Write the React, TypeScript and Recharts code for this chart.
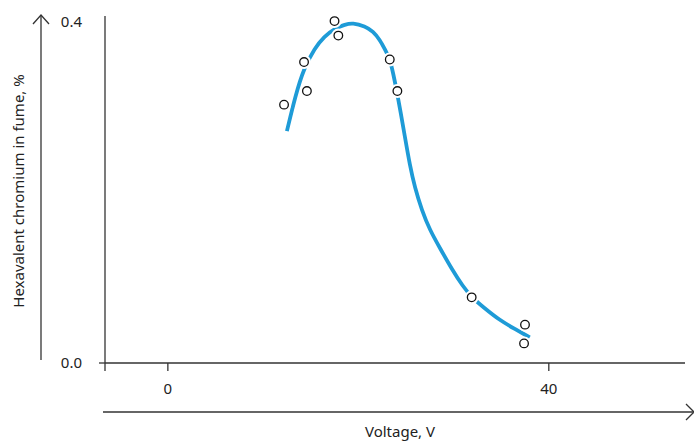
import { ComposedChart, Line, Scatter, XAxis, YAxis } from 'recharts';

// fitted curve
const curveVoltage = [12.5, 13.4, 14.3, 15.4, 16.4, 17.6, 18.6, 19.4, 20.7, 21.55, 22.26, 22.78, 23.31, 23.67, 24.04, 24.46, 24.88, 25.41, 25.93, 26.67, 27.51, 28.56, 29.82, 30.97, 31.92, 33.07, 34.86, 36.43, 38.0];
const curveChromium = [0.272, 0.314, 0.346, 0.369, 0.383, 0.393, 0.397, 0.399, 0.395, 0.389, 0.379, 0.368, 0.357, 0.339, 0.319, 0.293, 0.266, 0.232, 0.206, 0.179, 0.156, 0.135, 0.11, 0.09, 0.077, 0.066, 0.05, 0.04, 0.03];

// measured points
const pointVoltage = [12.2, 14.3, 14.6, 17.5, 17.9, 23.3, 24.1, 31.9, 37.5, 37.4];
const pointChromium = [0.303, 0.353, 0.319, 0.401, 0.384, 0.356, 0.319, 0.077, 0.045, 0.023];

const xTicks = [-6.6, 0, 40];
const yTicks = [0, 0.4];

const curve = curveVoltage.map((v, i) => ({ v, c: curveChromium[i] }));
const points = pointVoltage.map((v, i) => ({ v, c: pointChromium[i] }));

const FONT = '"Noto Sans", sans-serif';
const AXIS = '#333';
const BLUE = '#1e9bd7';

function Marker(props: any) {
  const { cx, cy } = props;
  return (
    <g>
      <circle cx={cx} cy={cy} r={7} fill="#fff" />
      <circle cx={cx} cy={cy} r={4.3} fill="#fff" stroke="#111" strokeWidth={1.3} />
    </g>
  );
}

function YTick(props: any) {
  const { x, y, payload } = props;
  return (
    <g>
      <text x={x} y={y} dy={5} textAnchor="end" fontFamily={FONT} fontSize={15} fill="#222">
        {payload.value.toFixed(1)}
      </text>
      {payload.value === 0 && <line x1={x + 17} x2={x + 23} y1={y} y2={y} stroke={AXIS} strokeWidth={1.3} />}
    </g>
  );
}

export default function App() {
  return (
    <div style={{ position: 'absolute', left: 0, top: 0, width: 694, height: 443 }}>
      <ComposedChart width={694} height={443} margin={{ top: 16, right: 9, bottom: 50, left: 0 }}>
        <XAxis
          type="number"
          dataKey="v"
          domain={[-6.6, 54.3]}
          ticks={xTicks}
          allowDataOverflow
          height={30}
          tickSize={8}
          tickMargin={12}
          tickFormatter={(t: number) => (t < -1 ? '' : String(t))}
          stroke={AXIS}
          strokeWidth={1.3}
          tick={{ fontFamily: FONT, fontSize: 15, fill: '#222' }}
        />
        <YAxis
          type="number"
          dataKey="c"
          domain={[0, 0.407]}
          ticks={yTicks}
          allowDataOverflow
          width={105}
          tickLine={false}
          tickSize={0}
          tickMargin={23}
          stroke={AXIS}
          strokeWidth={1.3}
          tick={<YTick />}
        />
        <Line
          data={curve}
          dataKey="c"
          type="basis"
          stroke={BLUE}
          strokeWidth={3.8}
          dot={false}
          activeDot={false}
          isAnimationActive={false}
        />
        <Scatter data={points} dataKey="c" shape={<Marker />} isAnimationActive={false} />
      </ComposedChart>
      <svg width={694} height={443} style={{ position: 'absolute', left: 0, top: 0, pointerEvents: 'none' }}>
        <line x1={41} y1={360} x2={41} y2={15} stroke={AXIS} strokeWidth={1.3} />
        <polyline points="33,24 41,15 49,24" fill="none" stroke={AXIS} strokeWidth={1.3} />
        <line x1={103} y1={412} x2={693} y2={412} stroke={AXIS} strokeWidth={1.3} />
        <polyline points="686,404 694,412 686,420" fill="none" stroke={AXIS} strokeWidth={1.3} />
        <text
          x={18}
          y={191}
          transform="rotate(-90 18 191)"
          textAnchor="middle"
          dominantBaseline="central"
          fontFamily={FONT}
          fontSize={15}
          fill="#222"
        >
          Hexavalent chromium in fume, %
        </text>
        <text x={400} y={437} textAnchor="middle" fontFamily={FONT} fontSize={15} fill="#222">
          Voltage, V
        </text>
      </svg>
    </div>
  );
}
